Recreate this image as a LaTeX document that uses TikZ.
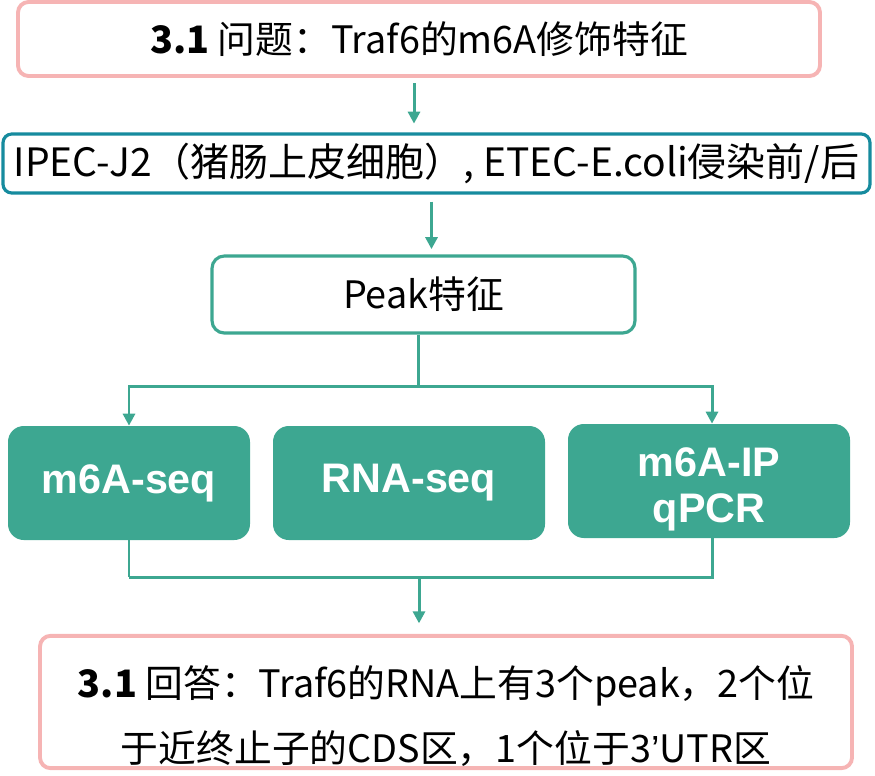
\documentclass[tikz,border=0pt]{standalone}
\usepackage{fontspec}
\setmainfont{Noto Sans CJK SC}
\newfontfamily\labelfont{Liberation Sans}
\usepackage{xcolor}
\usetikzlibrary{arrows.meta,positioning,calc}
\definecolor{mkpink}{HTML}{F6B4B4}
\definecolor{mkblue}{HTML}{168B9E}
\definecolor{mkteal}{HTML}{3DA791}
\tikzset{
  box/.style={draw, rounded corners=6pt, align=center, line width=1.8pt,
              inner sep=1pt, font=\fontsize{21.5}{37}\selectfont},
  question/.style={box, draw=mkpink, fill=white, line width=2.2pt},
  setup/.style={box, draw=mkblue, fill=white, rounded corners=5pt},
  feature/.style={box, draw=mkteal, fill=white, rounded corners=7pt},
  method/.style={draw=none, fill=mkteal, rounded corners=9pt, align=center,
                 text=white, font=\labelfont\bfseries\fontsize{23.5}{26}\selectfont,
                 minimum height=2.28cm},
  flow/.style={-{Triangle[length=2.4mm,width=2.4mm]}, draw=mkteal, line width=1.7pt},
  link/.style={draw=mkteal, line width=1.7pt},
}

\begin{document}
\begin{tikzpicture}
  \useasboundingbox (0,0) rectangle (17.5,-15.5);

  \node[question, minimum width=16.04cm, minimum height=1.48cm] (ask) at (8.38,-0.78)
    {\textbf{3.1} 问题：Traf6的m6A修饰特征};
  \node[setup, minimum width=17.34cm, minimum height=1.18cm, font=\fontsize{22.2}{26}\selectfont] (cells) at (8.73,-3.27)
    {IPEC-J2（猪肠上皮细胞）, ETEC-E.coli侵染前/后};
  \node[feature, minimum width=8.46cm, minimum height=1.54cm] (peak) at (8.47,-5.89)
    {Peak特征};

  \node[method, minimum width=4.84cm] (mseq) at (2.58,-9.66) {m6A-seq};
  \node[method, minimum width=5.44cm] (rseq) at (8.18,-9.66) {RNA-seq};
  \node[method, minimum width=5.64cm] (ipq) at (14.18,-9.62) {\rule{0pt}{26pt}m6A-IP\\qPCR};

  \node[question, minimum width=16.24cm, minimum height=2.64cm] (answer) at (8.92,-14.04)
    {\rule{0pt}{34pt}\textbf{3.1} 回答：Traf6的RNA上有3个peak，2个位\\于近终止子的CDS区，1个位于3{\labelfont ’}UTR区};

  \draw[flow, shorten <=3pt, shorten >=5pt] ([xshift=-0.1cm]ask.south) -- ([xshift=-0.1cm]ask.south |- cells.north);
  \draw[flow, shorten <=4pt, shorten >=3pt] ([xshift=-0.1cm]cells.south) -- ([xshift=-0.1cm]cells.south |- peak.north);

  \draw[link] ([xshift=-0.1cm]peak.south) -- ++(0,-1.04) coordinate (split);
  \draw[flow] (split) -| (mseq.north);
  \draw[flow] (split) -| ([xshift=0.06cm]ipq.north);

  \draw[link] (mseq.south) -- ++(0,-0.74) coordinate (joinl);
  \draw[link] ([xshift=0.06cm]ipq.south) |- (joinl);
  \draw[flow, shorten >=6pt] ($(joinl)!0.5!(joinl -| ipq.south)$) coordinate (join) -- (join |- answer.north);
\end{tikzpicture}
\end{document}
